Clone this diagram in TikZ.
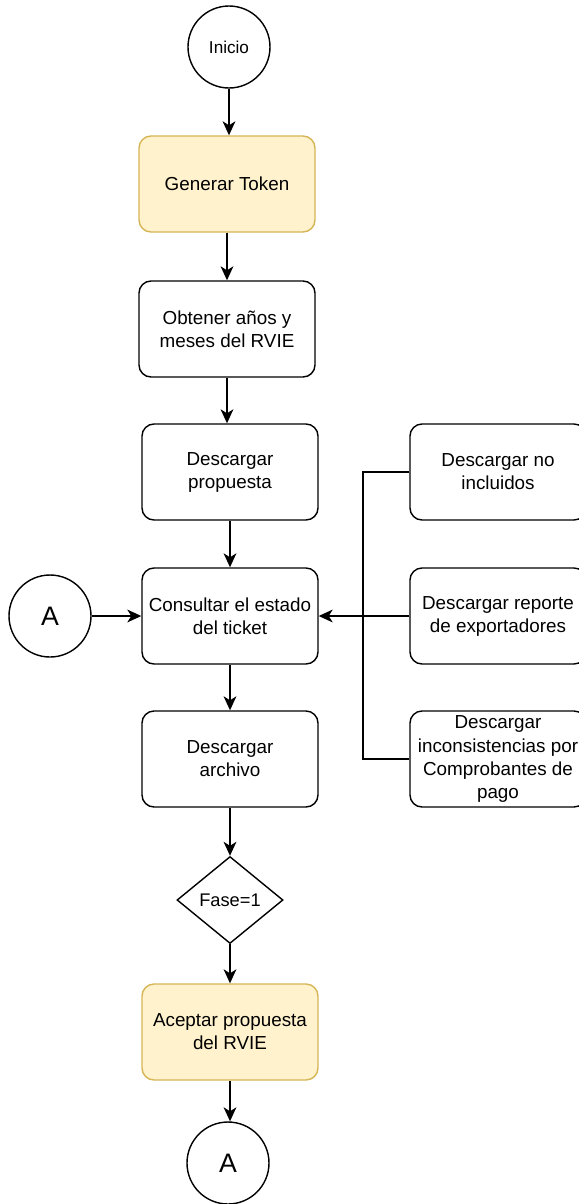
\documentclass[tikz,border=0pt]{standalone}
\usepackage{fontspec}
\setmainfont{Liberation Sans}
\usetikzlibrary{shapes.geometric,arrows.meta}
\definecolor{tokfill}{HTML}{FFF2CC}
\definecolor{tokdraw}{HTML}{D6B656}
\tikzset{
  proc/.style={draw, rounded corners=0.3cm, line width=1pt, minimum width=4.4cm,
    minimum height=2.4cm, align=center, font=\fontsize{13.4}{16.4}\selectfont},
  hilite/.style={proc, fill=tokfill, draw=tokdraw},
  term/.style={draw, circle, line width=1pt, minimum size=2.05cm, inner sep=0pt},
  cond/.style={draw, diamond, line width=1pt, minimum width=2.65cm, minimum height=2.175cm,
    inner sep=0pt, font=\fontsize{13}{16}\selectfont}
}
\begin{document}
\begin{tikzpicture}
      \useasboundingbox (0,0) rectangle (14.475,-30.1);
      \draw
        (5.725,-1.175) node[term, font=\fontsize{12.2}{14}\selectfont] (inicio){Inicio}
        (5.675,-4.6) node[hilite] (token){Generar Token}
        (5.675,-8.225) node[proc] (anios){Obtener años y\\meses del RVIE}
        (5.75,-11.8) node[proc] (propuesta){Descargar\\propuesta}
        (5.75,-15.4) node[proc] (consulta){Consultar el estado\\del ticket}
        (5.75,-18.975) node[proc] (archivo){Descargar\\archivo}
        (5.75,-22.5) node[cond] (fase){Fase=1}
        (5.75,-25.8) node[hilite] (aceptar){Aceptar propuesta\\del RVIE}
        (5.7,-29.075) node[term, font=\fontsize{19}{22}\selectfont] (afin){A}
        (1.25,-15.4) node[term, font=\fontsize{19}{22}\selectfont] (aini){A}
        (12.45,-11.8) node[proc] (noincl){Descargar no\\incluidos}
        (12.45,-15.4) node[proc] (reporte){Descargar reporte\\de exportadores}
        (12.45,-18.975) node[proc] (incons){Descargar\\inconsistencias por\\Comprobantes de\\pago};
      \coordinate (junta) at (9.075,-15.4);
      \begin{scope}[-{Stealth[length=3.5mm,width=3.2mm,inset=1mm]}, line width=1pt]
        \draw (inicio) to (inicio |- token.north);
        \draw (token) to (anios);
        \draw (anios.south) to (anios.south |- propuesta.north);
        \draw (propuesta) to (consulta);
        \draw (consulta) to (archivo);
        \draw (archivo) to (fase);
        \draw (fase) to (aceptar);
        \draw (aceptar.south) to (aceptar.south |- afin.north);
        \draw (aini) to (consulta);
        \draw (reporte) to (consulta);
      \end{scope}
      \begin{scope}[-, line width=1pt]
        \draw (noincl.west) -| (junta);
        \draw (incons.west) -| (junta);
      \end{scope}
    \end{tikzpicture}
\end{document}
